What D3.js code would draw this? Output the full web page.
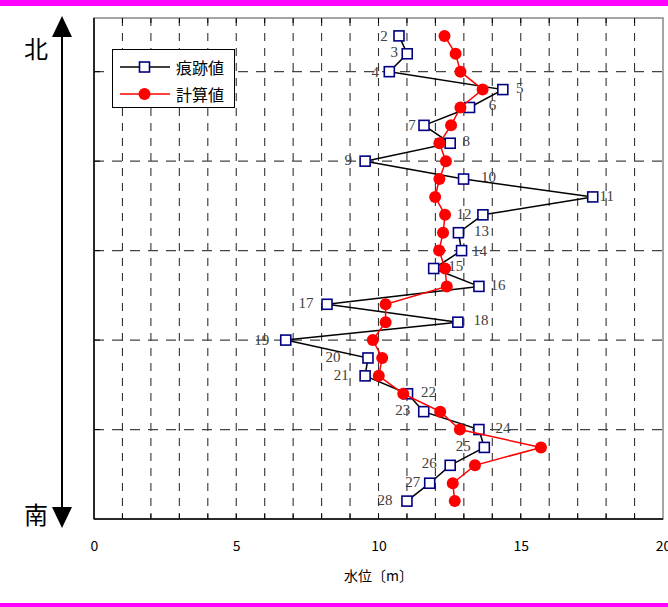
<!DOCTYPE html>
<html><head><meta charset="utf-8">
<script src="https://cdn.jsdelivr.net/npm/d3@7"></script>
<style>html,body{margin:0;padding:0;background:#fff;}svg{display:block;}</style>
</head><body>
<script>
// ---- data ----
const stations = [2,3,4,5,6,7,8,9,10,11,12,13,14,15,16,17,18,19,20,21,22,23,24,25,26,27,28];
const traceValues = [10.72,11.01,10.38,14.37,13.2,11.6,12.52,9.53,12.99,17.53,13.67,12.81,12.92,11.94,13.53,8.19,12.79,6.74,9.63,9.53,11.02,11.59,13.53,13.72,12.52,11.8,11.0];
const calcValues  = [12.32,12.71,12.88,13.66,12.88,12.55,12.14,12.37,12.14,11.99,12.34,12.27,12.13,12.34,12.4,10.25,10.25,9.8,10.13,10.01,10.87,12.17,12.86,15.71,13.39,12.61,12.68];
const xTickValues = [0,5,10,15,20];
const seriesNames = ["痕跡値","計算値"];
const xTitle = "水位〔m〕";
const northLabel = "北", southLabel = "南";

// label placement (offset from marker, px)
const labelDx = [-15,-13,-14,17,23,-12,16,-17,25,14,-19,23,18,22,19,-21,23,-24,-35,-24,21,-21,24,-21,-21,-17,-22];
const labelDy = [0,-2,0,-2,-2,0,-2,-1,-2,-1,-1,-2,0,-3,-1,-1,-2,0,-1,-1,-2,-2,-2,-1,-2,-1,-1];

const W = 668, H = 607;
const m = {left:94, right:663, top:18, bottom:519};
const svg = d3.select("body").append("svg").attr("width",W).attr("height",H);

const x = d3.scaleLinear().domain([0,20]).range([m.left,m.right]);
const y = d3.scaleLinear().domain([1,29]).range([m.top,m.bottom]);

// magenta frame lines
svg.append("rect").attr("x",0).attr("y",0).attr("width",W).attr("height",6).attr("fill","#ff00ff");
svg.append("rect").attr("x",0).attr("y",603).attr("width",W).attr("height",4).attr("fill","#ff00ff");

// gridlines
const grid = svg.append("g");
grid.selectAll("line.v").data(d3.range(1,20)).join("line")
  .attr("x1",d=>x(d)).attr("x2",d=>x(d)).attr("y1",m.top).attr("y2",m.bottom)
  .attr("stroke","#333").attr("stroke-width",1.1).attr("stroke-dasharray","8,7");
grid.selectAll("line.h").data([4,9,14,19,24]).join("line")
  .attr("x1",m.left).attr("x2",m.right).attr("y1",d=>y(d)).attr("y2",d=>y(d))
  .attr("stroke","#444").attr("stroke-width",1.2).attr("stroke-dasharray","10,8");

// plot frame
svg.append("rect").attr("x",m.left).attr("y",m.top).attr("width",m.right-m.left).attr("height",m.bottom-m.top)
  .attr("fill","none").attr("stroke","#888").attr("stroke-width",1.5);
svg.append("line").attr("x1",m.left).attr("x2",m.left).attr("y1",m.top).attr("y2",m.bottom).attr("stroke","#000").attr("stroke-width",1.5);
svg.append("line").attr("x1",m.left).attr("x2",m.right).attr("y1",m.bottom).attr("y2",m.bottom).attr("stroke","#000").attr("stroke-width",1.5);

// inner ticks
const tk = svg.append("g").attr("stroke","#000").attr("stroke-width",1);
tk.selectAll("line.t").data(d3.range(1,20)).join("line")
  .attr("x1",d=>x(d)).attr("x2",d=>x(d)).attr("y1",m.top).attr("y2",m.top+5);
tk.selectAll("line.b").data(d3.range(1,20)).join("line")
  .attr("x1",d=>x(d)).attr("x2",d=>x(d)).attr("y1",m.bottom).attr("y2",m.bottom-5);
tk.selectAll("line.l").data([4,9,14,19,24]).join("line")
  .attr("x1",m.left).attr("x2",m.left+6).attr("y1",d=>y(d)).attr("y2",d=>y(d));

// x axis labels
const xAxis = d3.axisBottom(x).tickValues(xTickValues).tickSize(0).tickPadding(0).tickFormat(d3.format("d"));
const gx = svg.append("g").attr("transform",`translate(0,${m.bottom+22})`).call(xAxis);
gx.select(".domain").remove();
gx.selectAll("text").attr("font-family","'Noto Sans CJK JP', sans-serif").attr("font-size",14).attr("fill","#000");
svg.append("text").attr("x",(m.left+m.right)/2).attr("y",581).attr("text-anchor","middle")
  .attr("font-family","'Noto Sans CJK JP', sans-serif").attr("font-size",14).text(xTitle);

// data labels
svg.append("g").selectAll("text").data(stations).join("text")
  .attr("x",(d,i)=>x(traceValues[i])+labelDx[i]).attr("y",(d,i)=>y(d)+labelDy[i])
  .attr("text-anchor","middle").attr("dominant-baseline","central")
  .attr("font-family","'Liberation Serif', serif").attr("font-size",15).attr("fill","#404040")
  .text(d=>d);

// trace series
const tracePts = stations.map((s,i)=>[traceValues[i],s]);
const calcPts = stations.map((s,i)=>[calcValues[i],s]);
const line = d3.line().x(d=>x(d[0])).y(d=>y(d[1]));
svg.append("path").attr("d",line(tracePts)).attr("fill","none").attr("stroke","#000").attr("stroke-width",1.5);
svg.append("g").selectAll("rect").data(tracePts).join("rect")
  .attr("x",d=>x(d[0])-5).attr("y",d=>y(d[1])-5).attr("width",10).attr("height",10)
  .attr("fill","#fff").attr("stroke","#000080").attr("stroke-width",1.6);

// calc series
svg.append("path").attr("d",line(calcPts)).attr("fill","none").attr("stroke","#ff0000").attr("stroke-width",1.5);
svg.append("g").selectAll("circle").data(calcPts).join("circle")
  .attr("cx",d=>x(d[0])).attr("cy",d=>y(d[1])).attr("r",6).attr("fill","#ff0000");

// legend
const lg = svg.append("g");
lg.append("rect").attr("x",112.5).attr("y",49.5).attr("width",122).attr("height",58).attr("fill","#fff").attr("stroke","#000").attr("stroke-width",1);
lg.append("line").attr("x1",120).attr("x2",170).attr("y1",67).attr("y2",67).attr("stroke","#000").attr("stroke-width",1.5);
lg.append("rect").attr("x",139.5).attr("y",62).attr("width",10).attr("height",10).attr("fill","#fff").attr("stroke","#000080").attr("stroke-width",1.6);
lg.append("line").attr("x1",120).attr("x2",170).attr("y1",94).attr("y2",94).attr("stroke","#ff0000").attr("stroke-width",1.5);
lg.append("circle").attr("cx",144.5).attr("cy",94).attr("r",6).attr("fill","#ff0000");
lg.selectAll("text").data(seriesNames).join("text")
  .attr("x",176).attr("y",(d,i)=>67+i*27).attr("dominant-baseline","central")
  .attr("font-family","'Noto Sans CJK JP', sans-serif").attr("font-size",16).text(d=>d);

// north-south arrow
const ax = 62;
svg.append("line").attr("x1",ax).attr("x2",ax).attr("y1",34).attr("y2",510).attr("stroke","#000").attr("stroke-width",2);
svg.append("path").attr("d",`M${ax},16 L${ax-10},37 L${ax+10},37 Z`).attr("fill","#000");
svg.append("path").attr("d",`M${ax},528 L${ax-10},507 L${ax+10},507 Z`).attr("fill","#000");
svg.append("text").attr("x",36).attr("y",47).attr("text-anchor","middle").attr("dominant-baseline","central")
  .attr("font-family","'Noto Sans CJK JP', sans-serif").attr("font-size",24).text(northLabel);
svg.append("text").attr("x",36).attr("y",513).attr("text-anchor","middle").attr("dominant-baseline","central")
  .attr("font-family","'Noto Sans CJK JP', sans-serif").attr("font-size",24).text(southLabel);
</script>
</body></html>
